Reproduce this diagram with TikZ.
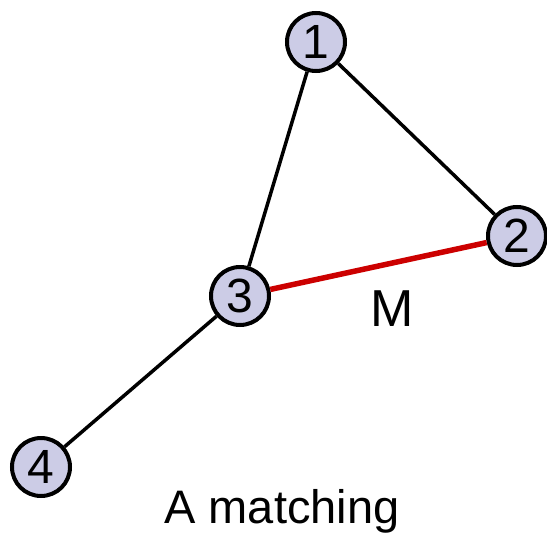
\documentclass[tikz,border=0pt]{standalone}
\usepackage{fontspec}
\setmainfont{Liberation Sans}
\definecolor{nodefill}{RGB}{204,204,230}
\definecolor{matchred}{RGB}{204,0,0}
\begin{document}
\begin{tikzpicture}[x=1pt,y=-1pt,
  vertex/.style={circle,draw=black,line width=4pt,fill=nodefill,minimum size=58pt,inner sep=0pt,font=\fontsize{48}{48}\selectfont},
  edge/.style={line width=3.5pt,black},
  medge/.style={line width=5.5pt,matchred},
  lbl/.style={font=\fontsize{47}{47}\selectfont,inner sep=0pt}]
\useasboundingbox (0,0) rectangle (547,533);
\node[vertex] (n1) at (316,42) {1};
\node[vertex] (n2) at (517,236) {2};
\node[vertex] (n3) at (240,296) {3};
\node[vertex] (n4) at (41,467) {4};
\draw[edge] (n1) -- (n2);
\draw[edge] (n1) -- (n3);
\draw[edge] (n3) -- (n4);
\draw[medge] (n3) -- (n2);
\node[lbl,anchor=base] (m) at (392,326) {\fontsize{52}{52}\selectfont M};
\node[lbl,anchor=base] (cap) at (282,523) {A matching};
\end{tikzpicture}
\end{document}
